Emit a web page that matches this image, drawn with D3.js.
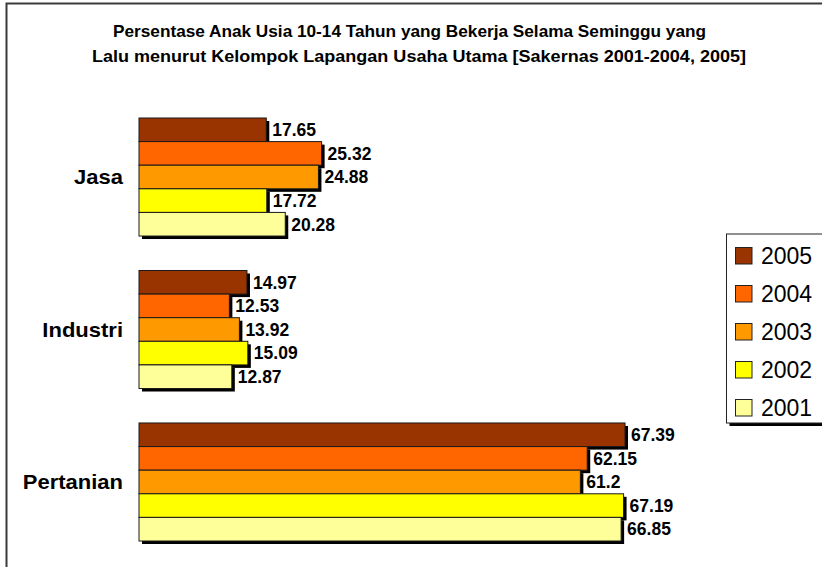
<!DOCTYPE html>
<html><head><meta charset="utf-8">
<script src="https://cdn.jsdelivr.net/npm/d3@7"></script>
<style>body{margin:0;background:#fff;overflow:hidden}svg{display:block}</style>
</head><body>
<script>
// ---- data ----
const categories = ["Jasa", "Industri", "Pertanian"];
const years = ["2005", "2004", "2003", "2002", "2001"];
const v2005 = [17.65, 14.97, 67.39];
const v2004 = [25.32, 12.53, 62.15];
const v2003 = [24.88, 13.92, 61.2];
const v2002 = [17.72, 15.09, 67.19];
const v2001 = [20.28, 12.87, 66.85];
const seriesValues = [v2005, v2004, v2003, v2002, v2001];
const valueLabels = [
  ["17.65", "14.97", "67.39"],
  ["25.32", "12.53", "62.15"],
  ["24.88", "13.92", "61.2"],
  ["17.72", "15.09", "67.19"],
  ["20.28", "12.87", "66.85"]
];
const colors = ["#993300", "#FF6600", "#FF9900", "#FFFF00", "#FFFF99"];
const titleLines = [
  "Persentase Anak Usia 10-14 Tahun yang Bekerja Selama Seminggu yang",
  "Lalu menurut Kelompok Lapangan Usaha Utama [Sakernas 2001-2004, 2005]"
];

const W = 822, H = 567;
const FONT = "'Liberation Sans', Arial, Helvetica, sans-serif";

const svg = d3.select("body").append("svg").attr("width", W).attr("height", H)
  .style("font-family", FONT);

// outer frame
svg.append("rect").attr("x", 6.5).attr("y", 3.5).attr("width", W + 20).attr("height", H + 20)
  .attr("fill", "#fff").attr("stroke", "#3a3a3a").attr("stroke-width", 2);

// title
const titleStart = [113, 92], titleLen = [593, 654];
svg.append("g").selectAll("text").data(titleLines).join("text")
  .attr("x", (d, i) => titleStart[i]).attr("y", (d, i) => 37 + i * 25)
  .attr("textLength", (d, i) => titleLen[i]).attr("lengthAdjust", "spacingAndGlyphs")
  .attr("font-weight", "bold").attr("font-size", 16.2)
  .attr("fill", "#000").text(d => d);

// scales
const x = d3.scaleLinear().domain([0, 70]).range([139, 139 + 70 * 7.212]);
const y = d3.scaleBand().domain(categories).range([118, 541]).paddingInner(0.226).paddingOuter(0);
const yInner = d3.scaleBand().domain(years).range([0, y.bandwidth()]).padding(0);

const rows = [];
categories.forEach((c, ci) => {
  years.forEach((yr, si) => {
    rows.push({cat: c, year: yr, value: seriesValues[si][ci], label: valueLabels[si][ci], color: colors[si]});
  });
});

const plot = svg.append("g");
// shadows
plot.append("g").selectAll("rect").data(rows).join("rect")
  .attr("x", x(0) + 3).attr("y", d => y(d.cat) + yInner(d.year) + 3)
  .attr("width", d => x(d.value) - x(0)).attr("height", yInner.bandwidth())
  .attr("fill", "#000");
// bars
plot.append("g").selectAll("rect").data(rows).join("rect")
  .attr("x", x(0)).attr("y", d => y(d.cat) + yInner(d.year))
  .attr("width", d => x(d.value) - x(0)).attr("height", yInner.bandwidth())
  .attr("fill", d => d.color).attr("stroke", "#1a1a1a").attr("stroke-width", 1);
// value labels
plot.append("g").selectAll("text").data(rows).join("text")
  .attr("x", d => x(d.value) + 6)
  .attr("y", d => y(d.cat) + yInner(d.year) + yInner.bandwidth() / 2)
  .attr("dy", "0.36em")
  .attr("font-weight", "bold").attr("font-size", 17.5).attr("fill", "#000")
  .text(d => d.label);

// category labels
svg.append("g").selectAll("text").data(categories).join("text")
  .attr("transform", d => `translate(123, ${y(d) + y.bandwidth() / 2}) scale(1.1, 1)`)
  .attr("dy", "0.36em").attr("text-anchor", "end")
  .attr("font-weight", "bold").attr("font-size", 20).attr("fill", "#000")
  .text(d => d);

// legend
const lg = svg.append("g");
lg.append("rect").attr("x", 729.5).attr("y", 237).attr("width", 200).attr("height", 189).attr("fill", "#000");
lg.append("rect").attr("x", 726.5).attr("y", 234).attr("width", 200).attr("height", 189)
  .attr("fill", "#fff").attr("stroke", "#222").attr("stroke-width", 1);
const items = lg.selectAll("g.item").data(years).join("g").attr("class", "item")
  .attr("transform", (d, i) => `translate(735.5, ${247.5 + i * 38})`);
items.append("rect").attr("width", 16.5).attr("height", 16.5)
  .attr("fill", (d, i) => colors[i]).attr("stroke", "#222").attr("stroke-width", 1);
items.append("text").attr("x", 25.5).attr("y", 8.25).attr("dy", "0.36em")
  .attr("font-size", 23).attr("fill", "#000").text(d => d);
</script>
</body></html>
